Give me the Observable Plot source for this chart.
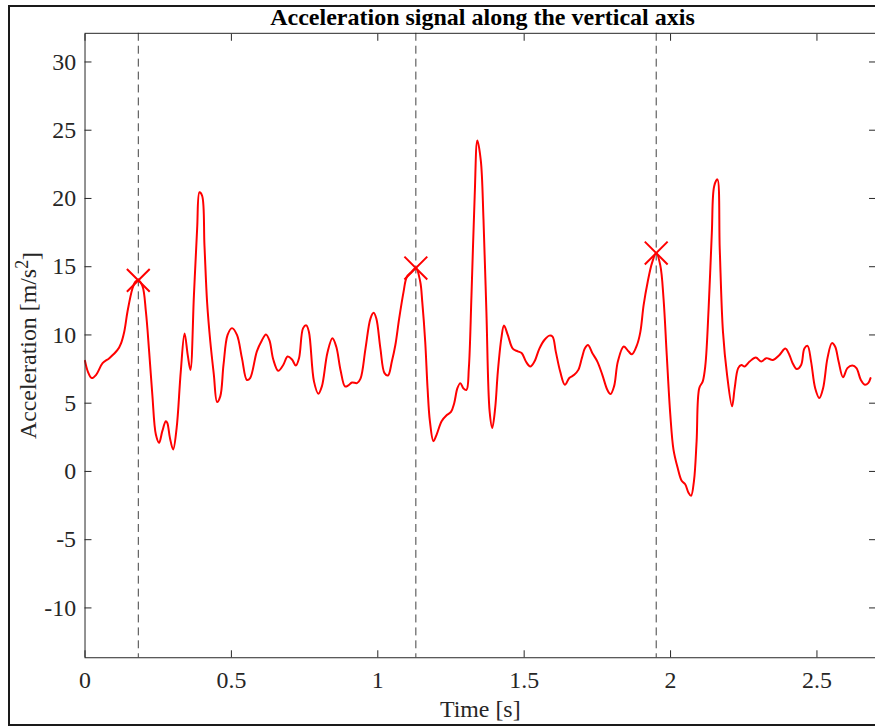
<!DOCTYPE html>
<html>
<head>
<meta charset="utf-8">
<script src="https://cdn.jsdelivr.net/npm/d3@7"></script>
<script src="https://cdn.jsdelivr.net/npm/@observablehq/plot@0.6"></script>
<style>
  html, body { margin: 0; padding: 0; background: #fff; }
  #wrap { position: relative; width: 875px; height: 726px; overflow: hidden; background: #fff; }
  #chart { position: absolute; left: 0; top: 0; }
  #border { position: absolute; left: 8px; top: 5px; width: 900px; height: 717px; border: 2px solid #1a1a1a; border-right: none; pointer-events: none; }
  #title { position: absolute; left: 85px; top: 5px; width: 795px; text-align: center; font-family: 'Liberation Serif', 'Times New Roman', serif; font-weight: bold; font-size: 24px; line-height: 24px; color: #000; white-space: nowrap; }
</style>
</head>
<body>
<div id="wrap">
  <div id="chart"></div>
  <div id="border"></div>
  <div id="title">Acceleration signal along the vertical axis</div>
</div>
<script>
// time samples [s]
const times = [0.000,0.010,0.023,0.038,0.060,0.083,0.111,0.123,0.134,0.145,0.162,0.172,0.182,0.196,0.208,0.219,0.230,0.242,0.253,0.264,0.276,0.281,0.290,0.301,0.313,0.327,0.340,0.351,0.360,0.372,0.383,0.391,0.400,0.408,0.417,0.428,0.440,0.451,0.462,0.473,0.487,0.502,0.519,0.536,0.553,0.564,0.587,0.604,0.618,0.630,0.643,0.660,0.677,0.692,0.707,0.720,0.731,0.745,0.756,0.765,0.782,0.797,0.809,0.828,0.845,0.858,0.873,0.888,0.899,0.912,0.929,0.941,0.958,0.975,0.986,0.995,1.009,1.023,1.035,1.048,1.060,1.073,1.088,1.099,1.114,1.130,1.145,1.152,1.162,1.170,1.178,1.190,1.201,1.218,1.235,1.250,1.261,1.272,1.282,1.292,1.303,1.311,1.320,1.331,1.340,1.352,1.361,1.371,1.382,1.391,1.401,1.410,1.422,1.431,1.444,1.461,1.478,1.492,1.506,1.521,1.535,1.552,1.569,1.586,1.597,1.608,1.623,1.639,1.654,1.671,1.685,1.697,1.707,1.718,1.733,1.750,1.767,1.784,1.795,1.807,1.820,1.840,1.857,1.868,1.886,1.897,1.908,1.922,1.937,1.951,1.965,1.976,1.987,1.999,2.010,2.024,2.038,2.050,2.061,2.070,2.080,2.089,2.098,2.110,2.119,2.130,2.141,2.149,2.160,2.168,2.179,2.193,2.210,2.219,2.231,2.242,2.253,2.270,2.291,2.310,2.327,2.350,2.372,2.392,2.406,2.417,2.431,2.446,2.457,2.468,2.480,2.494,2.508,2.521,2.536,2.551,2.562,2.574,2.589,2.604,2.621,2.635,2.650,2.664,2.675,2.683];
// vertical acceleration [m/s^2]
const accel = [8.1,7.3,6.84,7.08,7.93,8.3,8.9,9.39,10.24,11.7,13.4,13.9,14.0,13.6,11.7,8.8,5.6,2.7,2.1,2.95,3.68,3.56,2.46,1.61,3.19,7.3,10.1,8.5,7.44,12.9,17.8,20.45,20.2,16.55,12.4,9.5,7.1,5.09,5.5,7.8,10.0,10.5,10.0,8.3,6.7,6.84,8.8,9.6,10.04,9.6,8.2,7.37,7.8,8.42,8.2,7.76,8.3,10.5,10.7,10.2,6.6,5.7,6.23,8.7,9.75,9.15,7.4,6.23,6.3,6.52,6.47,6.8,9.0,11.2,11.62,11.2,9.0,7.2,7.03,8.05,9.26,11.2,13.16,14.25,14.6,14.9,13.9,12.4,9.5,6.1,3.68,2.22,2.7,3.68,4.12,4.36,5.0,6.1,6.47,6.1,5.98,7.57,12.9,20.2,24.25,22.75,18.5,11.7,4.4,3.19,4.65,7.3,9.75,10.7,10.0,9.0,8.8,8.66,8.05,7.69,8.05,9.0,9.63,9.95,9.88,8.78,7.32,6.35,6.84,7.08,7.44,8.3,9.0,9.26,8.66,8.05,7.08,5.98,5.67,6.23,8.05,9.15,8.78,8.58,9.3,10.24,12.18,13.9,15.3,16.0,15.1,12.67,8.53,4.2,1.6,0.28,-0.69,-0.94,-1.55,-1.79,-0.69,2.22,6.1,6.6,7.8,11.94,17.5,20.9,21.4,16.3,10.24,7.08,4.77,6.1,7.57,7.8,7.69,8.05,8.35,8.05,8.3,8.17,8.53,9.0,8.53,7.93,7.5,7.8,9.0,9.2,8.05,6.1,5.38,6.1,8.3,9.4,9.15,8.05,6.9,7.57,7.76,7.57,6.7,6.35,6.47,6.84];
// detected peaks
const peakTimes = [0.182, 1.130, 1.951];
const peakValues = [14.0, 14.9, 16.0];
// tick values
const xTicks = [0, 0.5, 1, 1.5, 2, 2.5];
const yTicks = [-10, -5, 0, 5, 10, 15, 20, 25, 30];

const signal = times.map((t, i) => ({t, a: accel[i]}));
const peaks = peakTimes.map((t, i) => ({t, a: peakValues[i]}));
const fmt = d => String(d);
const axisColor = "#262626";

const chart = Plot.plot({
  width: 880,
  height: 726,
  marginLeft: 85,
  marginRight: 0,
  marginTop: 33,
  marginBottom: 65,
  style: {
    fontFamily: "'Liberation Serif', 'Times New Roman', serif",
    fontSize: "24px",
    color: axisColor,
    background: "transparent",
    overflow: "visible"
  },
  x: {domain: [0, 2.7]},
  y: {domain: [-13.65, 32.1]},
  marks: [
    Plot.ruleX(peakTimes, {stroke: "#404040", strokeWidth: 1, strokeDasharray: "8,5"}),
    Plot.line(signal, {x: "t", y: "a", stroke: "#ff0000", strokeWidth: 2, curve: "catmull-rom"}),
    Plot.dot(peaks, {x: "t", y: "a", symbol: "times", r: 10.5, stroke: "#ff0000", strokeWidth: 2}),
    Plot.frame({stroke: axisColor, strokeWidth: 1}),
    // labels
    Plot.axisX(xTicks, {anchor: "bottom", tickSize: 0, tickPadding: 13, tickFormat: fmt, fill: axisColor,
      label: "Time [s]", labelAnchor: "center", labelArrow: "none", labelOffset: 60}),
    Plot.axisY(yTicks, {anchor: "left", tickSize: 0, tickPadding: 9, tickFormat: fmt, fill: axisColor,
      label: "Acceleration [m/s²]", labelAnchor: "center", labelArrow: "none", labelOffset: 66}),
    // inward ticks on all four sides
    Plot.axisX(xTicks, {anchor: "bottom", tickSize: 7, dy: -7, fill: "none", stroke: axisColor}),
    Plot.axisX(xTicks, {anchor: "top", tickSize: 7, dy: 7, fill: "none", stroke: axisColor}),
    Plot.axisY(yTicks, {anchor: "left", tickSize: 7, dx: 7, fill: "none", stroke: axisColor}),
    Plot.axisY(yTicks, {anchor: "right", tickSize: 7, dx: -7, fill: "none", stroke: axisColor})
  ]
});
document.getElementById("chart").appendChild(chart);

// render the exponent of the y label as a raised superscript
d3.select(chart).selectAll("text").each(function () {
  const el = d3.select(this);
  if (this.textContent === "Acceleration [m/s²]") {
    el.text(null);
    el.append("tspan").text("Acceleration [m/s");
    el.append("tspan").attr("dy", "-0.45em").attr("font-size", "0.75em").text("2");
    el.append("tspan").attr("dy", "0.45em").text("]");
  }
});
</script>
</body>
</html>
